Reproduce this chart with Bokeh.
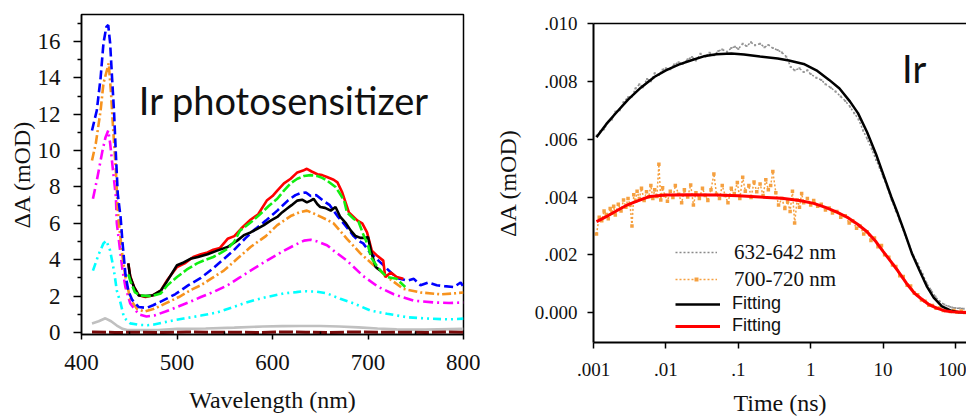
from jinja2 import Template
from bokeh.plotting import figure
from bokeh.models import (Range1d, FixedTicker, LinearAxis, Legend, LegendItem,
                          CustomJSTickFormatter, Label)
from bokeh.embed import file_html
from bokeh.resources import INLINE

# ---------------- Left panel data (wavelength nm, dA mOD) ----------------
blue_wl = [411, 416, 420, 423, 426, 428, 430, 432, 434, 436, 438, 441, 443, 446, 449, 453, 460, 468, 475, 485,
           498, 512, 525, 536, 547, 559, 572, 580, 593, 605, 616, 624, 629, 635, 640, 646, 653, 660, 668, 676,
           685, 690, 695, 702, 711, 720, 730, 741, 748, 755, 763, 772, 780, 790, 797, 800]
blue_y = [11.1, 12.2, 14.0, 15.9, 16.8, 16.9, 15.9, 14.0, 12.2, 9.8, 7.6, 6.3, 4.9, 3.2, 2.3, 1.8, 1.4, 1.35, 1.5, 1.75,
          2.1, 2.6, 3.0, 3.45, 3.95, 4.5, 5.2, 5.6, 6.15, 6.7, 7.25, 7.55, 7.65, 7.7, 7.5, 7.55, 7.25, 7.0, 6.4, 5.9,
          5.3, 5.05, 4.9, 4.4, 3.95, 3.5, 3.0, 2.85, 2.95, 2.6, 2.75, 2.6, 2.55, 2.5, 2.75, 2.5]

orange_wl = [411, 415, 420, 423, 427, 428.5, 431, 433, 436, 438, 440, 443, 446, 451, 458, 466, 476, 488, 502, 515,
             525, 537, 549, 563, 577, 593, 605, 619, 628, 636, 645, 657, 664, 678, 692, 706, 720, 737, 755, 776,
             790, 800]
orange_y = [9.45, 10.4, 12.2, 13.7, 14.5, 14.8, 13.1, 11.3, 8.9, 6.7, 5.6, 4.15, 3.05, 1.85, 1.3, 1.15, 1.3, 1.6, 1.95, 2.35,
            2.6, 3.0, 3.4, 4.05, 4.7, 5.3, 5.9, 6.4, 6.6, 6.7, 6.5, 6.2, 6.0, 5.15, 4.35, 3.7, 3.05, 2.4, 2.2, 2.1,
            2.15, 2.2]

magenta_wl = [412, 416, 422, 425, 428, 430, 433, 436, 437, 440, 443, 446, 451, 460, 468, 476, 488, 500, 512, 525,
              539, 553, 565, 577, 594, 612, 625, 633, 640, 647, 657, 664, 678, 695, 711, 727, 748, 769, 785, 800]
magenta_y = [7.35, 8.35, 10.0, 10.7, 11.1, 10.4, 8.9, 7.45, 6.0, 4.7, 3.4, 2.5, 1.6, 1.0, 0.88, 0.93, 1.15, 1.4, 1.65, 1.95,
             2.25, 2.6, 3.0, 3.4, 3.95, 4.5, 4.85, 5.05, 5.1, 5.0, 4.8, 4.5, 3.95, 3.1, 2.5, 2.1, 1.75, 1.65, 1.62, 1.65]

cyan_wl = [412, 418, 423, 426, 430, 434, 437, 441, 444.5, 451, 460, 469, 476, 490, 507, 525, 542, 556, 570, 582,
           594, 612, 625, 633, 645, 657, 671, 685, 703, 720, 741, 765, 785, 800]
cyan_y = [3.4, 4.3, 4.9, 5.05, 4.5, 3.4, 2.3, 1.6, 0.82, 0.5, 0.42, 0.4, 0.44, 0.6, 0.77, 0.93, 1.1, 1.35, 1.6, 1.8,
          1.95, 2.15, 2.22, 2.27, 2.25, 2.15, 1.85, 1.6, 1.2, 1.03, 0.84, 0.76, 0.72, 0.76]

gray_wl = [411, 418, 425, 431, 437, 443, 448, 460, 480, 500, 530, 560, 590, 610, 630, 650, 670, 690, 710, 730, 760, 800]
gray_y = [0.5, 0.62, 0.78, 0.62, 0.38, 0.2, 0.14, 0.13, 0.14, 0.2, 0.22, 0.27, 0.33, 0.35, 0.36, 0.36, 0.33, 0.28,
          0.22, 0.17, 0.16, 0.2]

maroon_wl = [411, 435, 460, 485, 510, 535, 560, 585, 610, 635, 660, 685, 710, 735, 760, 785, 800]
maroon_y = [0.03, 0.0, 0.02, 0.0, 0.03, 0.01, 0.02, 0.0, 0.03, 0.02, 0.0, 0.03, 0.01, 0.02, 0.0, 0.03, 0.02]

red_wl = [449, 451, 455, 460, 467, 475, 483, 490, 500, 508, 517, 525, 532, 538, 545, 553, 560, 567, 577, 585,
          594, 600, 605, 612, 619, 626, 632, 636, 641, 647, 652, 657, 664, 668, 673, 680, 689, 694, 699, 704,
          710, 716, 718, 724, 730, 737]
red_y = [3.8, 3.1, 2.5, 2.05, 1.95, 2.05, 2.3, 2.9, 3.6, 3.8, 4.15, 4.3, 4.4, 4.55, 4.65, 5.15, 5.3, 5.7, 6.2, 6.5,
         7.25, 7.5, 7.8, 8.2, 8.45, 8.8, 8.9, 9.0, 8.85, 8.7, 8.65, 8.55, 8.4, 8.25, 7.7, 6.6, 6.15, 6.0, 5.5, 4.5,
         4.2, 3.95, 3.05, 3.3, 3.05, 2.95]

green_wl = [449, 451, 456, 462, 470, 475, 483, 490, 500, 510, 521, 530, 538, 545, 553, 560, 566, 577, 587, 596,
            605, 612, 619, 626, 633, 640, 647, 652, 657, 666, 671, 675, 678, 685, 690, 695, 700, 703, 710, 715,
            720, 730, 739]
green_y = [3.2, 2.85, 2.2, 2.03, 2.0, 2.03, 2.15, 2.6, 3.05, 3.45, 3.8, 4.0, 4.15, 4.35, 4.6, 5.0, 5.6, 6.05, 6.5, 6.95,
           7.35, 7.8, 8.2, 8.45, 8.6, 8.65, 8.6, 8.5, 8.35, 8.0, 7.6, 7.25, 6.6, 6.25, 6.1, 5.4, 4.8, 4.15, 3.6, 3.3,
           3.05, 2.95, 2.5]

black_wl = [449, 451, 455, 460, 467, 475, 483, 490, 500, 507, 514, 522, 532, 542, 553, 563, 570, 577, 584, 591,
            598, 605, 610, 615, 620, 626, 631, 636, 640, 643, 647, 650, 655, 661, 666, 671, 677, 682, 687, 692,
            697, 700, 703, 708, 713]
black_y = [3.8, 3.05, 2.5, 2.03, 2.0, 2.05, 2.3, 2.85, 3.7, 3.85, 4.05, 4.15, 4.3, 4.5, 4.7, 5.05, 5.35, 5.5, 5.7, 5.9,
           6.15, 6.35, 6.6, 6.8, 7.0, 7.25, 7.3, 7.15, 7.25, 7.35, 7.05, 6.9, 6.85, 6.7, 6.9, 6.35, 6.0, 5.6, 5.3, 5.2,
           5.2, 5.25, 4.5, 3.6, 3.4]

left_xticks = [400, 500, 600, 700, 800]
left_xminor = [450, 550, 650, 750]
left_yticks = [0, 2, 4, 6, 8, 10, 12, 14, 16]
left_yminor = [1, 3, 5, 7, 9, 11, 13, 15, 17]

# ---------------- Right panel data (time ns, dA) ----------------
t632 = [0.0011, 0.00125, 0.0014, 0.0016, 0.0018, 0.002, 0.0023, 0.0026, 0.003, 0.0034, 0.0038, 0.0043, 0.0048,
        0.0055, 0.0062, 0.007, 0.008, 0.009, 0.01, 0.0115, 0.013, 0.015, 0.017, 0.02, 0.023, 0.026, 0.03, 0.035,
        0.04, 0.046, 0.053, 0.06, 0.07, 0.08, 0.09, 0.1, 0.115, 0.13, 0.15, 0.17, 0.2, 0.23, 0.26, 0.3, 0.35, 0.4,
        0.46, 0.53, 0.6, 0.7, 0.8, 0.9, 1.0, 1.2, 1.4, 1.6, 1.9, 2.2, 2.6, 3.0, 3.5, 4.0, 4.6, 5.3, 6.0, 7.0, 8.0,
        9.0, 10, 11.5, 13, 15, 17, 20, 23, 26, 30, 35, 40, 46, 53, 60, 70, 80, 90, 100, 115, 130]
a632 = [0.00612, 0.00628, 0.00634, 0.00660, 0.00668, 0.00695, 0.00700, 0.00728, 0.00745, 0.00748, 0.00775, 0.00790,
        0.00780, 0.00808, 0.00800, 0.00828, 0.00822, 0.00840, 0.00845, 0.00842, 0.00858, 0.00866, 0.00860, 0.00876,
        0.00884, 0.00872, 0.00895, 0.00885, 0.00899, 0.00890, 0.00905, 0.00910, 0.00902, 0.00915, 0.00920, 0.00912,
        0.00930, 0.00922, 0.00935, 0.00925, 0.00930, 0.00918, 0.00926, 0.00915, 0.00908, 0.00900, 0.00885, 0.00850,
        0.00838, 0.00845, 0.00832, 0.00838, 0.00825, 0.00812, 0.00805, 0.00790, 0.00778, 0.00765, 0.00748, 0.00732,
        0.00712, 0.00690, 0.00668, 0.00630, 0.00602, 0.00565, 0.00528, 0.00500, 0.00470, 0.00432, 0.00392, 0.00352,
        0.00318, 0.00270, 0.00232, 0.00200, 0.00170, 0.00135, 0.00102, 0.00078, 0.00055, 0.00040, 0.00028, 0.00022,
        0.00018, 0.00016, 0.00015, 0.00014]

t700 = [0.0011, 0.0012, 0.0013, 0.0014, 0.0015, 0.0016, 0.0017, 0.0018, 0.0019, 0.002, 0.0022, 0.0024, 0.0026,
        0.0028, 0.003, 0.0032, 0.0034, 0.0036, 0.0038, 0.004, 0.0043, 0.0046, 0.005, 0.0054, 0.0058, 0.0062, 0.0066,
        0.007, 0.0075, 0.008, 0.0085, 0.009, 0.0097, 0.0105, 0.0115, 0.0125, 0.0135, 0.015, 0.0165, 0.018, 0.02,
        0.022, 0.024, 0.026, 0.029, 0.032, 0.035, 0.038, 0.042, 0.046, 0.05, 0.055, 0.06, 0.066, 0.072, 0.08, 0.088,
        0.097, 0.105, 0.115, 0.125, 0.14, 0.15, 0.165, 0.18, 0.2, 0.22, 0.24, 0.26, 0.28, 0.3, 0.33, 0.36, 0.4,
        0.44, 0.48, 0.52, 0.56, 0.6, 0.65, 0.7, 0.75, 0.8, 0.9, 1.0, 1.1, 1.25, 1.4, 1.6, 1.8, 2.0, 2.3, 2.6, 3.0,
        3.4, 3.8, 4.3, 4.8, 5.4, 6.0, 6.8, 7.6, 8.5, 9.5, 10.5, 12, 13.5, 15, 17, 19, 21.5, 24, 27, 30, 34, 38, 43,
        48, 54, 60, 68, 76, 85, 95, 105, 120, 135]
a700 = [0.00272, 0.00330, 0.00318, 0.00352, 0.00340, 0.00325, 0.00360, 0.00345, 0.00368, 0.00338, 0.00375, 0.00352,
        0.00390, 0.00365, 0.00395, 0.00372, 0.00300, 0.00408, 0.00385, 0.00420, 0.00395, 0.00430, 0.00388, 0.00418,
        0.00400, 0.00440, 0.00395, 0.00425, 0.00402, 0.00513, 0.00390, 0.00432, 0.00405, 0.00385, 0.00420, 0.00398,
        0.00440, 0.00410, 0.00380, 0.00425, 0.00400, 0.00442, 0.00372, 0.00415, 0.00395, 0.00430, 0.00405, 0.00388,
        0.00425, 0.00480, 0.00410, 0.00395, 0.00440, 0.00405, 0.00380, 0.00430, 0.00412, 0.00450, 0.00395, 0.00468,
        0.00420, 0.00440, 0.00398, 0.00452, 0.00418, 0.00445, 0.00405, 0.00460, 0.00425, 0.00440, 0.00488, 0.00415,
        0.00372, 0.00395, 0.00360, 0.00385, 0.00350, 0.00420, 0.00310, 0.00390, 0.00365, 0.00412, 0.00380, 0.00395,
        0.00372, 0.00388, 0.00368, 0.00375, 0.00355, 0.00362, 0.00345, 0.00350, 0.00330, 0.00335, 0.00310, 0.00318,
        0.00292, 0.00300, 0.00272, 0.00280, 0.00250, 0.00258, 0.00228, 0.00232, 0.00200, 0.00192, 0.00165, 0.00160,
        0.00128, 0.00125, 0.00095, 0.00092, 0.00068, 0.00062, 0.00044, 0.00040, 0.00026, 0.00025, 0.00015, 0.00016,
        0.00008, 0.00010, 0.00004, 0.00008, 0.00002, 0.00006, 0.00001]

tfit_black = [0.0011, 0.0015, 0.002, 0.003, 0.0045, 0.007, 0.01, 0.015, 0.022, 0.035, 0.05, 0.08, 0.12, 0.2, 0.35,
              0.5, 0.8, 1.2, 1.8, 2.5, 3.5, 4.5, 6, 8, 10, 13, 16, 20, 25, 32, 40, 50, 65, 85, 110, 142]
afit_black = [0.00607, 0.00652, 0.00688, 0.00737, 0.00778, 0.00816, 0.00838, 0.00858, 0.00872, 0.00888, 0.00894,
              0.00896, 0.00893, 0.00886, 0.00879, 0.00872, 0.00860, 0.00838, 0.00805, 0.00775, 0.00730, 0.00690,
              0.00625, 0.00548, 0.00480, 0.00400, 0.00342, 0.00275, 0.00205, 0.00145, 0.00092, 0.00052, 0.00022,
              0.00008, 0.00002, 0.00001]

tfit_red = [0.0011, 0.0015, 0.002, 0.003, 0.004, 0.006, 0.01, 0.02, 0.05, 0.1, 0.2, 0.4, 0.7, 1.1, 1.6, 2.3, 3.2,
            4.5, 6, 8, 10, 13, 16, 21, 27, 33, 42, 55, 70, 90, 142]
afit_red = [0.00315, 0.00332, 0.00350, 0.00374, 0.00386, 0.00402, 0.00407, 0.00408, 0.00407, 0.00404, 0.00400,
            0.00396, 0.00388, 0.00378, 0.00364, 0.00348, 0.00330, 0.00305, 0.00280, 0.00245, 0.00212, 0.00175,
            0.00145, 0.00102, 0.00068, 0.00050, 0.00030, 0.00016, 0.00007, 0.00003, 0.00001]

right_xticks = [0.001, 0.01, 0.1, 1, 10, 100]
right_yticks = [0.0, 0.002, 0.004, 0.006, 0.008, 0.010]

SERIF = "'Liberation Serif'"
SANS = "'Liberation Sans'"

# ================= Left figure =================
p1 = figure(width=480, height=419, output_backend="svg", toolbar_location=None,
            x_range=Range1d(400, 800), y_range=Range1d(-0.11, 17.48),
            min_border_left=81, min_border_right=17, min_border_top=14, min_border_bottom=85)
p1.title.visible = False
p1.xgrid.visible = False
p1.ygrid.visible = False
p1.outline_line_color = "black"
p1.outline_line_width = 1.5
p1.background_fill_color = "white"
p1.border_fill_color = "white"

lw = 2.6
p1.line(gray_wl, gray_y, line_color="#c0c0c0", line_width=lw)
p1.line(maroon_wl, maroon_y, line_color="#7a0a0a", line_width=3, line_dash="14 3")
p1.line(cyan_wl, cyan_y, line_color="#00ffff", line_width=lw, line_dash="8 4 2 4 2 4")
p1.line(magenta_wl, magenta_y, line_color="#ff00ff", line_width=lw, line_dash="10 4 2 4")
p1.line(orange_wl, orange_y, line_color="#f7931e", line_width=lw, line_dash="9 3 2 3")
p1.line(blue_wl, blue_y, line_color="#0000ff", line_width=lw, line_dash="9 4")
p1.line(red_wl, red_y, line_color="#ff0000", line_width=lw)
p1.line(black_wl, black_y, line_color="#000000", line_width=lw)
p1.line(green_wl, green_y, line_color="#11ee11", line_width=lw, line_dash="10 3")

for ax in (p1.xaxis[0], p1.yaxis[0]):
    ax.axis_line_width = 1.5
    ax.major_tick_line_width = 1.5
    ax.minor_tick_line_width = 1.5
    ax.major_label_text_font = SERIF
    ax.major_label_text_font_size = "23px"
    ax.major_label_text_color = "#111111"
    ax.axis_label_text_font = SERIF
    ax.axis_label_text_font_size = "24px"
    ax.axis_label_text_font_style = "normal"
    ax.axis_label_text_color = "#111111"

p1.xaxis.ticker = FixedTicker(ticks=left_xticks, minor_ticks=left_xminor)
p1.xaxis.major_tick_out = 5
p1.xaxis.major_tick_in = 0
p1.xaxis.minor_tick_in = 3
p1.xaxis.minor_tick_out = 0
p1.xaxis.major_label_standoff = 15
p1.xaxis.axis_label = "Wavelength (nm)"
p1.xaxis.axis_label_standoff = 14

p1.yaxis.ticker = FixedTicker(ticks=left_yticks, minor_ticks=left_yminor)
p1.yaxis.major_tick_out = 8
p1.yaxis.major_tick_in = 0
p1.yaxis.minor_tick_out = 4
p1.yaxis.minor_tick_in = 0
p1.yaxis.major_label_standoff = 13
p1.yaxis.axis_label = "ΔA (mOD)"
p1.yaxis.axis_label_standoff = 0

p1.add_layout(Label(x=460, y=12.78, text="Ir photosensitizer", text_font="Lato",
                    text_font_size="38px", text_color="#111111", text_baseline="alphabetic"))

# ================= Right figure =================
p2 = figure(width=486, height=419, output_backend="svg", toolbar_location=None,
            x_axis_type="log", x_range=Range1d(0.001, 142), y_range=Range1d(-0.00103, 0.010),
            min_border_left=113, min_border_right=0, min_border_top=23, min_border_bottom=77)
p2.title.visible = False
p2.xgrid.visible = False
p2.ygrid.visible = False
p2.outline_line_color = None
p2.background_fill_color = "white"
p2.border_fill_color = "white"

r_gray_line = p2.line(t632, a632, line_color="#8a8a8a", line_width=1.5, line_dash="2 2")
p2.scatter(t632, a632, marker="square", size=2, color="#9a9a9a", line_color=None)
r_or_line = p2.line(t700, a700, line_color="#f5a040", line_width=1.5, line_dash="2 2")
r_orange = p2.scatter(t700, a700, marker="square", size=3.5, color="#f5a040", line_color=None)
r_bfit = p2.line(tfit_black, afit_black, line_color="black", line_width=2.5)
r_rfit = p2.line(tfit_red, afit_red, line_color="#ff0000", line_width=3)

for ax in (p2.xaxis[0], p2.yaxis[0]):
    ax.axis_line_width = 2
    ax.major_tick_line_width = 1.5
    ax.major_label_text_font = SERIF
    ax.major_label_text_font_size = "19px"
    ax.major_label_text_color = "#111111"
    ax.axis_label_text_font = SERIF
    ax.axis_label_text_font_size = "24px"
    ax.axis_label_text_font_style = "normal"
    ax.axis_label_text_color = "#111111"
    ax.minor_tick_line_color = None

p2.xaxis.ticker = FixedTicker(ticks=right_xticks, minor_ticks=[])
p2.xaxis.formatter = CustomJSTickFormatter(
    code="return tick >= 1 ? tick.toFixed(0) : tick.toString().replace(/^0/, '');")
p2.xaxis.major_tick_out = 6
p2.xaxis.major_tick_in = 0
p2.xaxis.major_label_standoff = 14
p2.xaxis.axis_label = "Time (ns)"
p2.xaxis.axis_label_standoff = 11

p2.yaxis.ticker = FixedTicker(ticks=right_yticks, minor_ticks=[])
p2.yaxis.formatter = CustomJSTickFormatter(
    code="return Math.abs(tick) < 1e-9 ? '0.000' : tick.toFixed(3).replace(/^0/, '');")
p2.yaxis.major_tick_out = 6
p2.yaxis.major_tick_in = 0
p2.yaxis.major_label_standoff = 10
p2.yaxis.axis_label = "ΔA (mOD)"
p2.yaxis.axis_label_standoff = 11

top2 = LinearAxis(ticker=FixedTicker(ticks=[], minor_ticks=[]),
                  major_label_text_font_size="0px", major_tick_out=0, major_tick_in=0,
                  minor_tick_in=0, minor_tick_out=0, axis_line_width=1.5, major_label_standoff=0)
p2.add_layout(top2, "above")

p2.add_layout(Label(x=18.3, y=0.00847, text="Ir", text_font="Lato",
                    text_font_size="38px", text_color="#111111", text_baseline="alphabetic"))

leg1 = Legend(items=[LegendItem(label="632-642 nm", renderers=[r_gray_line]),
                     LegendItem(label="700-720 nm", renderers=[r_or_line, r_orange])],
              location=(82, 50), orientation="vertical", padding=0, margin=0, spacing=1,
              glyph_width=42, glyph_height=10, label_height=26, label_standoff=17,
              label_text_font=SERIF, label_text_font_size="21px", label_text_color="#111111",
              label_text_baseline="alphabetic",
              border_line_color=None, background_fill_alpha=0)
leg2 = Legend(items=[LegendItem(label="Fitting", renderers=[r_bfit]),
                     LegendItem(label="Fitting", renderers=[r_rfit])],
              location=(82, 6), orientation="vertical", padding=0, margin=0, spacing=1,
              glyph_width=45, glyph_height=20, label_height=20, label_standoff=12,
              label_text_font=SANS, label_text_font_size="18px", label_text_color="#111111",
              border_line_color=None, background_fill_alpha=0)
p2.add_layout(leg1, "center")
p2.add_layout(leg2, "center")

# Two independent roots placed side by side (so their frames are not aligned to each other)
PAGE = Template(
    "{% extends base %}\n"
    "{% block postamble %}<style>"
    "body { display: flex !important; flex-direction: row; align-items: flex-start; margin: 0; }"
    "body > *, body > * > * { flex-shrink: 0; }"
    "</style>{% endblock %}"
)

open("out.html", "w").write(file_html([p1, p2], INLINE, template=PAGE))
